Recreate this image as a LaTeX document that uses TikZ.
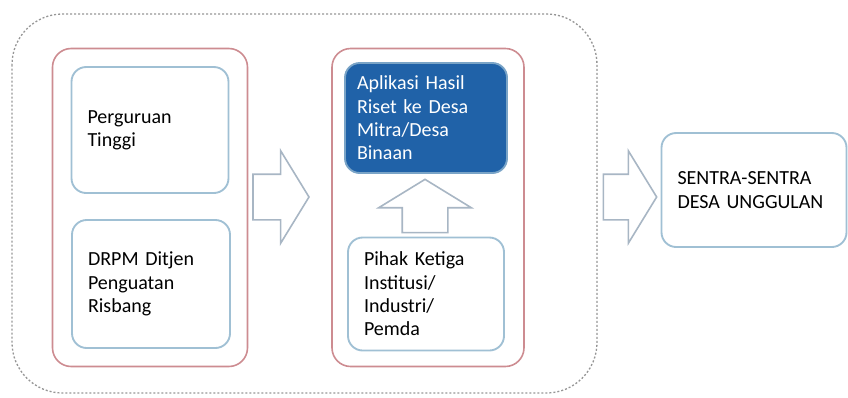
\documentclass[tikz,border=0pt]{standalone}
\usepackage{fontspec}
\setmainfont{Carlito}
\usetikzlibrary{shapes.arrows}
\definecolor{redline}{RGB}{205,140,145}
\definecolor{blueline}{RGB}{160,192,212}
\definecolor{bluefill}{RGB}{32,98,168}
\definecolor{arrowline}{RGB}{168,182,196}
\definecolor{dotline}{RGB}{150,150,150}

\begin{document}
\begin{tikzpicture}[x=0.75pt,y=-0.75pt,
    group/.style={draw=redline,line width=1.2pt,rounded corners=14pt,inner sep=0pt},
    item/.style={draw=blueline,line width=1.4pt,rounded corners=11pt,fill=white,
        inner xsep=12pt,align=left,font=\fontsize{15}{17.5}\selectfont},
    hot/.style={item,draw=blueline!70!bluefill,fill=bluefill,text=white,inner xsep=9pt},
    barrow/.style={single arrow,draw=arrowline,fill=white,line width=1.2pt,
        minimum height=42pt,inner xsep=0pt,inner ysep=16.5pt,
        single arrow head extend=17.6pt,single arrow tip angle=117}]
\useasboundingbox (0,0) rectangle (848,397);
\draw[dotline,line width=1pt,dash pattern=on 1.5pt off 1.5pt,rounded corners=38pt]
    (12,14) rectangle (597,393);

\node[group,minimum width=146.25pt,minimum height=238.5pt] (kampus) at (150,207.5) {};
\node[group,minimum width=144pt,minimum height=238.5pt] (desa) at (428,207.5) {};

\node[item,text width=93.75pt,minimum height=94.5pt] (pt) at (150,130)
    {Perguruan\\Tinggi};
\node[item,text width=94.5pt,minimum height=96pt] (drpm) at (151,284)
    {DRPM Ditjen\\Penguatan\\Risbang};

\node[hot,text width=103.5pt,minimum height=82.5pt] (aplikasi) at (426,118)
    {Aplikasi Hasil\\Riset ke Desa\\Mitra/Desa\\Binaan};
\node[item,text width=93pt,minimum height=84.75pt] (pihak) at (426,294)
    {Pihak Ketiga\\Institusi/\\Industri/\\Pemda};

\node[item,text width=114.75pt,minimum height=85.5pt] (sentra) at (754,190)
    {SENTRA-SENTRA\\DESA UNGGULAN};

\node[barrow] (kedesa) at (274,197) {};
\node[barrow,rotate=90,minimum height=40pt] (keaplikasi) at (425,213) {};
\node[barrow,minimum height=40pt] (kesentra) at (623,197) {};
\end{tikzpicture}
\end{document}
